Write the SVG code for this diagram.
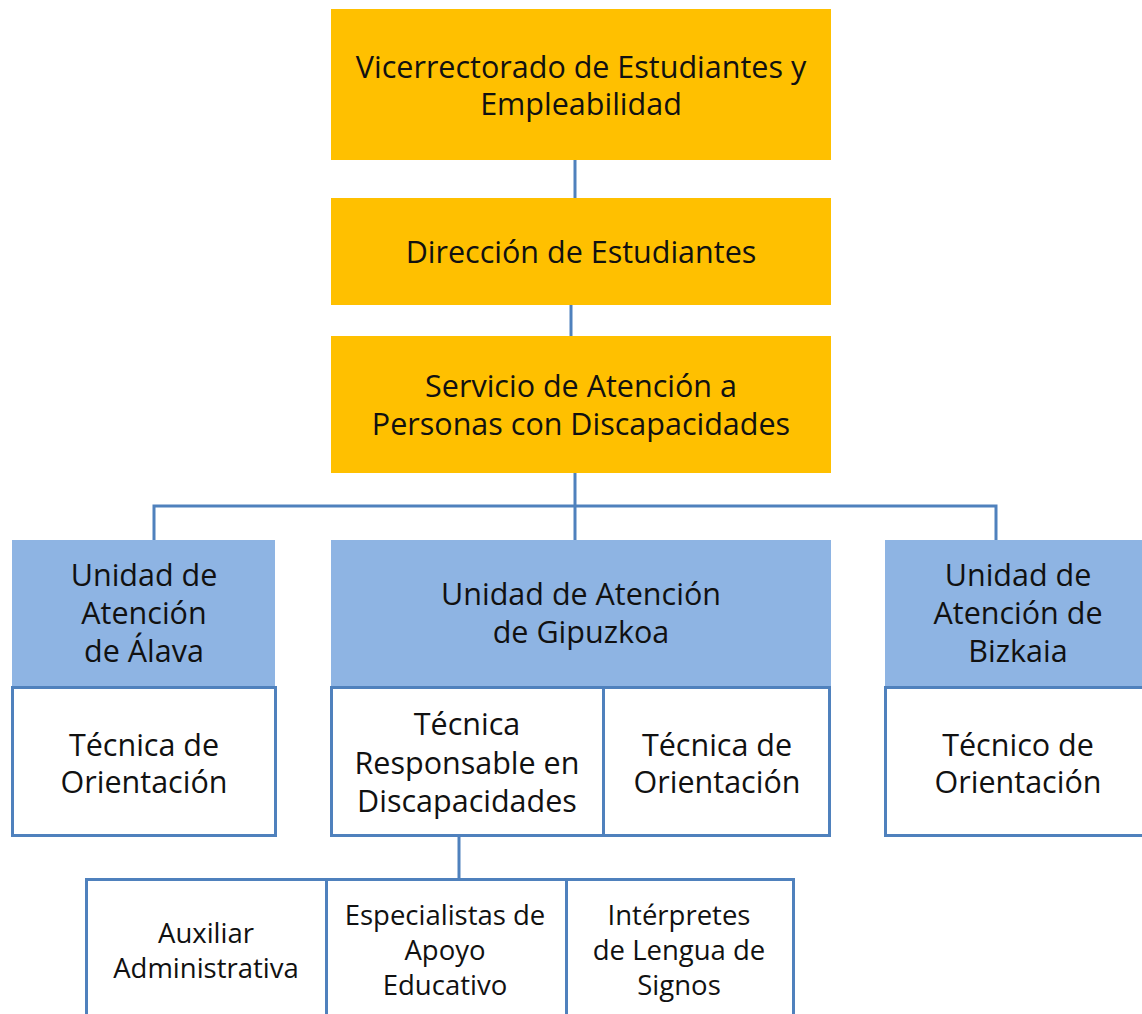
<svg xmlns="http://www.w3.org/2000/svg" width="1142" height="1014" viewBox="0 0 1142 1014">
<style>
.t{font-family:"Open Sans","Noto Sans","Liberation Sans",sans-serif;font-size:30.5px;fill:#111;text-anchor:middle}
.s{font-family:"Open Sans","Noto Sans","Liberation Sans",sans-serif;font-size:27.5px;fill:#111;text-anchor:middle}
.o{fill:#FFC000}
.b{fill:#8EB4E3}
.w{fill:#fff;stroke:#4F81BD;stroke-width:3}
.c{fill:none;stroke:#4F81BD;stroke-width:3}
</style>
<rect width="1142" height="1014" fill="#fff"/>
<g id="connectors">
<path class="c" d="M575 160V198"/>
<path class="c" d="M571 305V336"/>
<path class="c" d="M575 473V540"/>
<path class="c" d="M154 540V506H996V540"/>
<path class="c" d="M459 836V879"/>
</g>
<g id="vicerrectorado">
<rect class="o" x="331" y="9" width="500" height="151"/>
<text class="t" x="581" y="78">Vicerrectorado de Estudiantes y</text>
<text class="t" x="581" y="115">Empleabilidad</text>
</g>
<g id="direccion">
<rect class="o" x="331" y="198" width="500" height="107"/>
<text class="t" x="581" y="263">Dirección de Estudiantes</text>
</g>
<g id="servicio">
<rect class="o" x="331" y="336" width="500" height="137"/>
<text class="t" x="581" y="397">Servicio de Atención a</text>
<text class="t" x="581" y="435">Personas con Discapacidades</text>
</g>
<g id="alava">
<rect class="b" x="12" y="540" width="263" height="147"/>
<text class="t" x="144" y="586">Unidad de</text>
<text class="t" x="144" y="624">Atención</text>
<text class="t" x="144" y="662">de Álava</text>
</g>
<g id="alava-tecnica">
<rect class="w" x="12.5" y="687.5" width="263" height="148"/>
<text class="t" x="144" y="756">Técnica de</text>
<text class="t" x="144" y="793">Orientación</text>
</g>
<g id="gipuzkoa">
<rect class="b" x="331" y="540" width="500" height="147"/>
<text class="t" x="581" y="605">Unidad de Atención</text>
<text class="t" x="581" y="643">de Gipuzkoa</text>
</g>
<g id="gipuzkoa-responsable">
<rect class="w" x="331.5" y="687.5" width="272" height="148"/>
<text class="t" x="467" y="735">Técnica</text>
<text class="t" x="467" y="774">Responsable en</text>
<text class="t" x="467" y="812">Discapacidades</text>
</g>
<g id="gipuzkoa-orientacion">
<rect class="w" x="603.5" y="687.5" width="226" height="148"/>
<text class="t" x="717" y="756">Técnica de</text>
<text class="t" x="717" y="793">Orientación</text>
</g>
<g id="bizkaia">
<rect class="b" x="885" y="540" width="266" height="147"/>
<text class="t" x="1018" y="586">Unidad de</text>
<text class="t" x="1018" y="624">Atención de</text>
<text class="t" x="1018" y="662">Bizkaia</text>
</g>
<g id="bizkaia-tecnico">
<rect class="w" x="885.5" y="687.5" width="266" height="148"/>
<text class="t" x="1018" y="756">Técnico de</text>
<text class="t" x="1018" y="793">Orientación</text>
</g>
<g id="auxiliar">
<rect class="w" x="86.5" y="879.5" width="240" height="150"/>
<text class="s" x="206" y="943">Auxiliar</text>
<text class="s" x="206" y="978">Administrativa</text>
</g>
<g id="especialistas">
<rect class="w" x="326.5" y="879.5" width="240" height="150"/>
<text class="s" x="445" y="925">Especialistas de</text>
<text class="s" x="445" y="960">Apoyo</text>
<text class="s" x="445" y="995">Educativo</text>
</g>
<g id="interpretes">
<rect class="w" x="566.5" y="879.5" width="227" height="150"/>
<text class="s" x="679" y="925">Intérpretes</text>
<text class="s" x="679" y="960">de Lengua de</text>
<text class="s" x="679" y="995">Signos</text>
</g>
</svg>
